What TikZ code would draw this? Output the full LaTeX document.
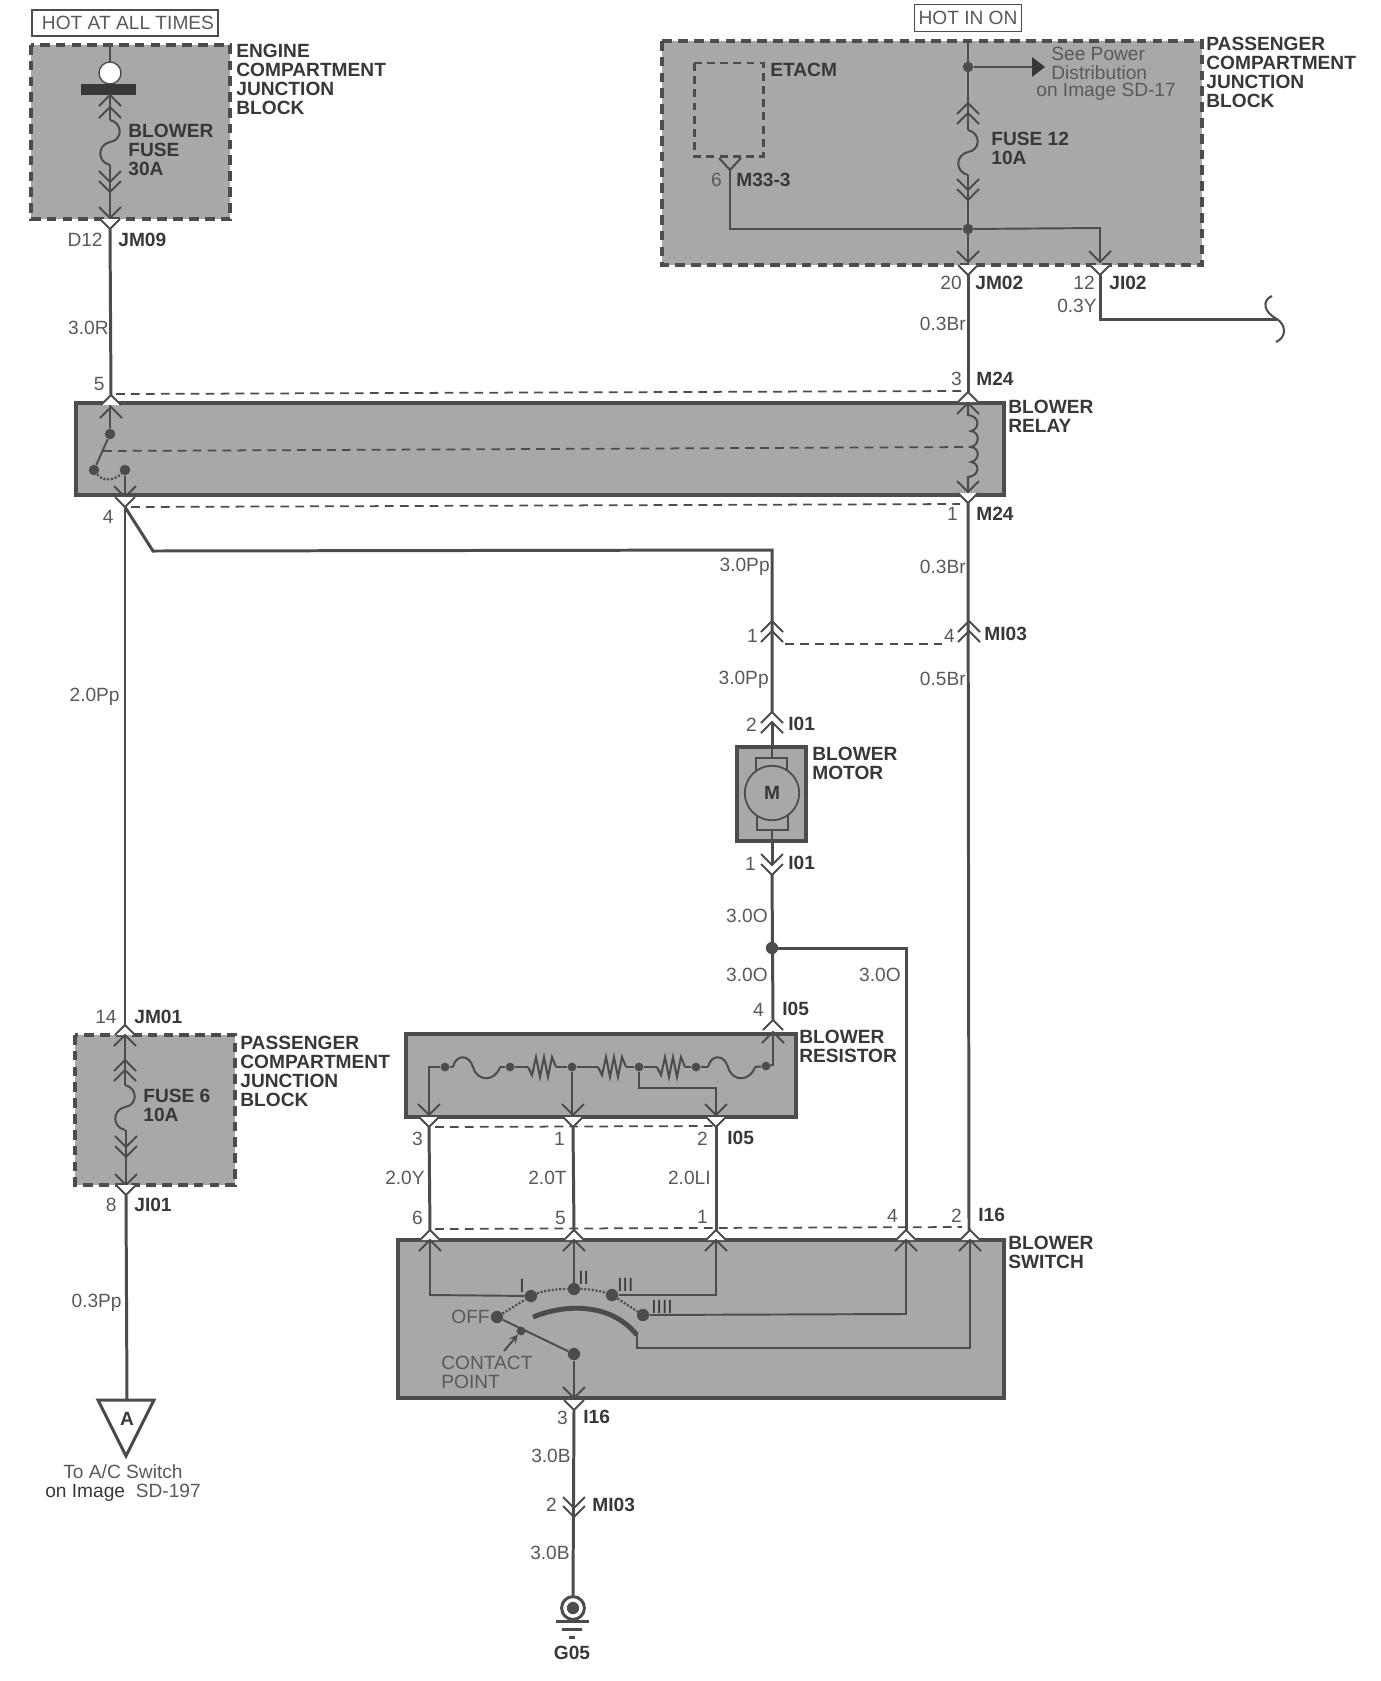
\documentclass[tikz,border=0pt]{standalone}
\usepackage{fontspec}
\setmainfont{Liberation Sans}
\definecolor{inkwire}{gray}{0.30}
\definecolor{inktext}{gray}{0.35}
\definecolor{inkbold}{gray}{0.22}
\definecolor{blockgray}{gray}{0.66}
\tikzset{
  wire/.style={draw=inkwire, line width=1.7pt},
  finewire/.style={draw=inkwire, line width=1.1pt},
  pin/.style={draw=inkwire, line width=1.15pt},
  dashwire/.style={draw=inkwire, line width=1pt, dash pattern=on 5pt off 3.5pt},
  dashblock/.style={draw=inkwire, line width=2.2pt, fill=blockgray, dash pattern=on 5.5pt off 3.5pt},
  solidblock/.style={draw=inkwire, line width=2.2pt, fill=blockgray},
  dot/.style={circle, fill=inkwire, inner sep=0pt, minimum size=6pt},
  lbl/.style={font=\fontsize{10.9}{10.8}\selectfont, text=inktext, inner sep=0pt, align=left},
  blbl/.style={font=\fontsize{10.9}{10.8}\selectfont\bfseries, text=inkbold, inner sep=0pt, align=left},
  chevup/.pic={\draw[pin] (-11,11) -- (0,0) -- (11,11);},
  chevdown/.pic={\draw[pin] (-11,-11) -- (0,0) -- (11,-11);},
  tabup/.pic={\filldraw[pin, fill=white] (-10,10) -- (0,0) -- (10,10);},
  tabdown/.pic={\filldraw[pin, fill=white] (-10,-10) -- (0,0) -- (10,-10);},
  fusev/.pic={\draw[pin] (0,0) .. controls (13,3) and (13,20) .. (0,22) .. controls (-13,25) and (-13,42) .. (0,45);},
  fuseh/.pic={\draw[pin] (0,0) .. controls (3,-13) and (16,-13) .. (20,0) .. controls (24,15) and (42,15) .. (47,0);},
  zigzag/.pic={\draw[pin] (0,0) -- (4,8) -- (8,-10) -- (12,10) -- (16,-10) -- (20,10) -- (24,-10) -- (28,0);},
}
\begin{document}
\begin{tikzpicture}[x=0.02cm, y=-0.02cm]
  \useasboundingbox (0,0) rectangle (1380,1681);

  % blocks
  \node[draw=inkwire, line width=1pt, minimum width=105.8, minimum height=14.8] (hotall) at (125,23) {};
  \node[lbl] (hotalltxt) at (128,23) {HOT AT ALL TIMES};
  \node[draw=inkwire, line width=1pt, minimum width=61, minimum height=15.4, inner sep=0pt] (hoton) at (968,18) {};
  \node[lbl] (hotontxt) at (hoton) {HOT IN ON};
  \draw[dashblock] (31,45) rectangle (230,219);
  \draw[dashblock] (662,41) rectangle (1202,265);
  \draw[draw=inkwire, line width=1.7pt, dash pattern=on 4.5pt off 3pt] (694,63) rectangle (763,156);
  \draw[solidblock] (76,403) rectangle (1004,495);
  \draw[solidblock] (737,747) rectangle (806,841);
  \draw[dashblock] (75,1035) rectangle (235,1185);
  \draw[solidblock] (406,1034) rectangle (796,1117);
  \draw[solidblock] (398,1240) rectangle (1004,1398);

  % terminals
  \coordinate (jmnine) at (110,229);
  \coordinate (relayfive) at (111,395);
  \coordinate (relayfour) at (125,507);
  \coordinate (bend) at (153,551);
  \coordinate (jmone) at (125,1025);
  \coordinate (jione) at (126,1195);
  \coordinate (acref) at (127,1400);
  \coordinate (jmtwo) at (968,275);
  \coordinate (relaythree) at (968,392);
  \coordinate (relayone) at (968,503);
  \coordinate (mithreetop) at (969,621);
  \coordinate (sdtwo) at (969,1230);
  \coordinate (jitwo) at (1100,275);
  \coordinate (motortop) at (772,712);
  \coordinate (motorbot) at (772,875);
  \coordinate (branch) at (772,948);
  \coordinate (resfour) at (773,1020);
  \coordinate (sdfour) at (906,1230);
  \coordinate (resthree) at (429,1127);
  \coordinate (resone) at (573,1127);
  \coordinate (restwo) at (716,1127);
  \coordinate (sdsix) at (430,1230);
  \coordinate (sdfive) at (574,1230);
  \coordinate (sdone) at (716,1230);
  \coordinate (sdbot) at (574,1410);
  \coordinate (gnd) at (573,1595);

  % main wires
  \draw[wire] (jmnine) -- (relayfive);
  \draw[wire] (relayfour) -- (jmone);
  \draw[wire] (relayfour) -- (bend) -- (772,550) -- (motortop);
  \draw[wire] (jmtwo) -- (relaythree);
  \draw[wire] (relayone) -- (sdtwo);
  \draw[wire] (jitwo) -- (1100,319) -- (1277,319);
  \draw[wire] (jione) -- (acref);
  \draw[wire] (motorbot) -- (resfour);
  \draw[wire] (branch) -- (906,948) -- (sdfour);
  \draw[wire] (resthree) -- (sdsix);
  \draw[wire] (resone) -- (sdfive);
  \draw[wire] (restwo) -- (sdone);
  \draw[wire] (sdbot) -- (gnd);
  \draw[pin] (1272,296) .. controls (1262,300) and (1263,312) .. (1277,319) .. controls (1286,325) and (1287,337) .. (1276,342);

  % connector groupings
  \draw[dashwire] (116,394) -- (963,391);
  \draw[dashwire] (131,507) -- (960,504);
  \draw[dashwire] (785,644) -- (942,644);
  \draw[dashwire] (435,1127) -- (713,1126);
  \draw[dashwire] (435,1229) -- (962,1227);

  % engine block inside
  \draw[finewire] (110,45) -- (110,63);
  \draw[fill=white, draw=inkwire, line width=0.8pt] (110,73) circle [radius=11];
  \fill[inkbold] (81,84) rectangle (136,95);
  \draw[finewire] (110,95) -- (110,120);
  \pic at (110,95) {chevup};
  \pic at (110,107) {chevup};
  \pic at (110,120) {fusev};
  \draw[finewire] (110,165) -- (110,218);
  \pic at (110,182) {chevdown};
  \pic at (110,192) {chevdown};
  \pic at (110,218) {chevdown};
  \pic at (110,229) {tabdown};

  % passenger block inside
  \draw[finewire] (968,41) -- (968,130);
  \pic at (968,103) {chevup};
  \pic at (968,113) {chevup};
  \pic at (968,130) {fusev};
  \draw[finewire] (968,175) -- (968,262);
  \pic at (968,190) {chevdown};
  \pic at (968,200) {chevdown};
  \pic at (968,262) {chevdown};
  \pic at (968,275) {tabdown};
  \node[dot] (feed) at (968,67) {};
  \node[dot] (split) at (968,229) {};
  \coordinate (seepower) at (1045,67);
  \draw[finewire] (feed) -- (1032,67);
  \fill[inkbold] (1032,57) -- (seepower) -- (1032,77) -- cycle;
  \coordinate (etacmpin) at (730,170);
  \draw[finewire] (etacmpin) -- (730,229) -- (split);
  \draw[finewire] (split) -- (1100,228) -- (1100,262);
  \draw[pin] (719,158) -- (etacmpin) -- (741,158);
  \pic at (1100,262) {chevdown};
  \pic at (1100,275) {tabdown};

  % relay inside
  \pic at (relayfive) {tabup};
  \pic at (111,407) {chevup};
  \pic at (relaythree) {tabup};
  \pic at (968,403) {chevup};
  \pic at (relayone) {tabdown};
  \pic at (968,492) {chevdown};
  \pic at (125,497) {chevdown};
  \pic at (relayfour) {tabdown};
  \node[dot] (relaya) at (110,434) {};
  \node[dot] (relayb) at (94,470) {};
  \node[dot] (relayc) at (125,470) {};
  \draw[finewire] (110,405) -- (relaya) -- (relayb);
  \draw[finewire] (relayc) -- (125,497);
  \draw[pin, densely dotted, line width=1.3pt] (relayb) .. controls (103,482) and (115,480) .. (relayc);
  \draw[dashwire] (103,451) -- (970,447);
  \draw[pin] (968,403) -- (968,415) .. controls (980,416) and (980,429) .. (971,431) .. controls (980,432) and (980,445) .. (971,447) .. controls (980,448) and (980,460) .. (971,462) .. controls (980,463) and (980,476) .. (968,477) -- (968,492);

  % motor
  \pic at (motortop) {chevup};
  \pic at (772,722) {chevup};
  \pic at (mithreetop) {chevup};
  \pic at (969,631) {chevup};
  \pic at (772,621) {chevup};
  \pic at (772,631) {chevup};
  \pic at (772,865) {chevdown};
  \pic at (motorbot) {chevdown};
  \draw[fill=blockgray, draw=inkwire, line width=1pt] (756,758) rectangle (787,772);
  \draw[fill=blockgray, draw=inkwire, line width=1pt] (757,816) rectangle (788,830);
  \node[circle, draw=inkwire, line width=1pt, fill=blockgray, minimum size=31pt, inner sep=0pt] (motor) at (772,793) {\fontsize{10.9}{10.9}\selectfont\bfseries\color{inkbold}M};
  \draw[finewire] (772,747) -- (772,758);
  \draw[finewire] (772,830) -- (772,841);
  \draw[wire] (772,841) -- (772,865);
  \draw[wire] (772,722) -- (772,747);
  \node[dot, minimum size=7pt] (branchdot) at (branch) {};

  % resistor inside
  \pic at (resfour) {tabup};
  \pic at (773,1032) {chevup};
  \draw[finewire] (773,1032) -- (773,1065) -- (766,1066);
  \node[dot, minimum size=5pt] (ra) at (445,1067) {};
  \node[dot, minimum size=5pt] (rb) at (510,1067) {};
  \node[dot, minimum size=5pt] (rc) at (572,1067) {};
  \node[dot, minimum size=5pt] (rd) at (639,1067) {};
  \node[dot, minimum size=5pt] (re) at (696,1067) {};
  \node[dot, minimum size=5pt] (rf) at (766,1066) {};
  \draw[pin] (429,1115) -- (429,1067) -- (ra) -- (453,1067);
  \pic at (453,1067) {fuseh};
  \draw[pin] (500,1067) -- (rb) -- (528,1067);
  \pic at (528,1067) {zigzag};
  \draw[pin] (556,1067) -- (rc) -- (598,1067);
  \pic at (598,1067) {zigzag};
  \draw[pin] (626,1067) -- (rd) -- (657,1067);
  \pic at (657,1067) {zigzag};
  \draw[pin] (685,1067) -- (re) -- (708,1067);
  \pic at (708,1067) {fuseh};
  \draw[pin] (755,1067) -- (rf);
  \draw[pin] (rc) -- (572,1115);
  \draw[pin] (rd) -- (639,1088) -- (716,1088) -- (716,1115);
  \foreach \n in {429,573,716} {
    \pic at (\n,1115) {chevdown};
    \pic at (\n,1127) {tabdown};
  }

  % switch inside
  \foreach \n in {430,574,716,906,970} {
    \pic at (\n,1230) {tabup};
    \pic at (\n,1240) {chevup};
  }
  \node[dot, minimum size=7pt] (posone) at (531,1296) {};
  \node[dot, minimum size=7pt] (postwo) at (574,1289) {};
  \node[dot, minimum size=7pt] (posthree) at (612,1295) {};
  \node[dot, minimum size=7pt] (posfour) at (643,1315) {};
  \node[dot, minimum size=7pt] (posoff) at (497,1317) {};
  \node[dot, minimum size=7pt] (wiper) at (574,1354) {};
  \node[dot, minimum size=5pt] (contact) at (521,1331) {};
  \draw[finewire] (430,1240) -- (430,1295) -- (posone);
  \draw[finewire] (574,1240) -- (postwo);
  \draw[finewire] (716,1240) -- (716,1295) -- (posthree);
  \draw[finewire] (906,1240) -- (906,1314) -- (posfour);
  \draw[finewire] (970,1240) -- (970,1348) -- (637,1348) -- (637,1335);
  \draw[draw=inkwire, line width=2.8pt] (533,1317) .. controls (565,1304) and (610,1302) .. (637,1335);
  \draw[pin, densely dotted, line width=1.3pt] (posoff) -- (posone) .. controls (545,1290) and (560,1289) .. (postwo) .. controls (590,1289) and (600,1291) .. (posthree) -- (posfour);
  \draw[finewire] (posoff) -- (wiper);
  \coordinate (callout) at (504,1351);
  \draw[pin, ->, >=stealth] (callout) -- (contact);
  \draw[finewire] (wiper) -- (574,1398);
  \pic at (574,1398) {chevdown};
  \pic at (sdbot) {tabdown};
  \pic at (574,1508) {chevdown};
  \pic at (574,1517) {chevdown};

  % fuse 6
  \pic at (jmone) {tabup};
  \draw[finewire] (125,1035) -- (125,1085);
  \pic at (125,1035) {chevup};
  \pic at (125,1060) {chevup};
  \pic at (125,1070) {chevup};
  \pic at (125,1085) {fusev};
  \draw[finewire] (126,1130) -- (126,1185);
  \pic at (126,1147) {chevdown};
  \pic at (126,1157) {chevdown};
  \pic at (126,1185) {chevdown};
  \pic at (jione) {tabdown};

  % ground and reference triangle
  \node[circle, draw=inkwire, line width=1.7pt, minimum size=13pt, inner sep=0pt] (gndring) at (573,1608) {};
  \node[dot, minimum size=7pt] (gndcore) at (gndring) {};
  \draw[wire] (556,1621) -- (589,1621);
  \draw[wire] (562,1629) -- (582,1629);
  \draw[wire] (569,1637) -- (575,1637);
  \draw[draw=inkwire, line width=1.7pt, fill=white, line join=miter] (98,1400) -- (154,1400) -- (126,1456) -- cycle;

  % labels
  \node[blbl, anchor=north west] (engine) at (236,44) {ENGINE\\COMPARTMENT\\JUNCTION\\BLOCK};
  \node[blbl, anchor=north west] (blowerfuse) at (128,124) {BLOWER\\FUSE\\30A};
  \node[lbl, anchor=east] (dtwelve) at (103,240) {D12};
  \node[blbl, anchor=west] (jmninetxt) at (118,240) {JM09};
  \node[lbl, anchor=east] (threer) at (109,328) {3.0R};
  \node[lbl, anchor=east] (fivetxt) at (105,384) {5};
  \node[blbl, anchor=north west] (passa) at (1206,37) {PASSENGER\\COMPARTMENT\\JUNCTION\\BLOCK};
  \node[blbl, anchor=west] (etacm) at (770,70) {ETACM};
  \node[lbl, anchor=north west] (seea) at (1051,47) {See Power\\Distribution};
  \node[lbl, anchor=west] (seeb) at (1036,92) {on Image SD-17};
  \node[blbl, anchor=north west] (fusetwelve) at (991,132) {FUSE 12\\10A};
  \node[lbl, anchor=east] (sixtxt) at (722,180) {6};
  \node[blbl, anchor=west] (mthree) at (736,180) {M33-3};
  \node[lbl, anchor=east] (twenty) at (962,283) {20};
  \node[blbl, anchor=west] (jmtwotxt) at (975,283) {JM02};
  \node[lbl, anchor=east] (twelve) at (1095,283) {12};
  \node[blbl, anchor=west] (jitwotxt) at (1109,283) {JI02};
  \node[lbl, anchor=east] (threey) at (1097,306) {0.3Y};
  \node[lbl, anchor=east] (brone) at (966,324) {0.3Br};
  \node[lbl, anchor=east] (threetxt) at (962,379) {3};
  \node[blbl, anchor=west] (mtop) at (976,379) {M24};
  \node[blbl, anchor=north west] (relay) at (1008,400) {BLOWER\\RELAY};
  \node[lbl, anchor=east] (fourtxt) at (114,517) {4};
  \node[lbl, anchor=east] (onetxt) at (958,514) {1};
  \node[blbl, anchor=west] (mbot) at (976,514) {M24};
  \node[lbl, anchor=east] (brtwo) at (966,567) {0.3Br};
  \node[lbl, anchor=east] (pptop) at (770,567) {3.0Pp};
  \node[lbl, anchor=east] (onemi) at (758,636) {1};
  \node[lbl, anchor=east] (fourmi) at (955,636) {4};
  \node[blbl, anchor=west] (mitxt) at (984,634) {MI03};
  \node[lbl, anchor=east] (ppmid) at (769,680) {3.0Pp};
  \node[lbl, anchor=east] (brthree) at (966,679) {0.5Br};
  \node[lbl, anchor=east] (pptwo) at (120,697) {2.0Pp};
  \node[lbl, anchor=east] (twomot) at (757,725) {2};
  \node[blbl, anchor=west] (ionea) at (788,724) {I01};
  \node[blbl, anchor=north west] (motorname) at (812,747) {BLOWER\\MOTOR};
  \node[lbl, anchor=east] (onemot) at (756,864) {1};
  \node[blbl, anchor=west] (ioneb) at (788,863) {I01};
  \node[lbl, anchor=east] (ooa) at (768,916) {3.0O};
  \node[lbl, anchor=east] (oob) at (768,975) {3.0O};
  \node[lbl, anchor=east] (ooc) at (901,975) {3.0O};
  \node[lbl, anchor=east] (fourres) at (764,1010) {4};
  \node[blbl, anchor=west] (ifivea) at (782,1009) {I05};
  \node[blbl, anchor=north west] (resname) at (799,1030) {BLOWER\\RESISTOR};
  \node[lbl, anchor=east] (fourteen) at (117,1017) {14};
  \node[blbl, anchor=west] (jmonetxt) at (134,1017) {JM01};
  \node[blbl, anchor=north west] (passb) at (240,1036) {PASSENGER\\COMPARTMENT\\JUNCTION\\BLOCK};
  \node[blbl, anchor=north west] (fusesix) at (143,1089) {FUSE 6\\10A};
  \node[lbl, anchor=east] (eight) at (117,1205) {8};
  \node[blbl, anchor=west] (jionetxt) at (134,1205) {JI01};
  \node[lbl, anchor=east] (threeres) at (423,1139) {3};
  \node[lbl, anchor=east] (oneres) at (565,1139) {1};
  \node[lbl, anchor=east] (twores) at (708,1139) {2};
  \node[blbl, anchor=west] (ifiveb) at (727,1138) {I05};
  \node[lbl, anchor=east] (twoy) at (425,1178) {2.0Y};
  \node[lbl, anchor=east] (twot) at (567,1178) {2.0T};
  \node[lbl, anchor=east] (twoli) at (711,1178) {2.0LI};
  \node[lbl, anchor=east] (sixsw) at (423,1218) {6};
  \node[lbl, anchor=east] (fivesw) at (566,1218) {5};
  \node[lbl, anchor=east] (onesw) at (708,1217) {1};
  \node[lbl, anchor=east] (foursw) at (898,1216) {4};
  \node[lbl, anchor=east] (twosw) at (962,1216) {2};
  \node[blbl, anchor=west] (isixa) at (978,1215) {I16};
  \node[blbl, anchor=north west] (swname) at (1008,1236) {BLOWER\\SWITCH};
  \node[lbl, text=inkbold, anchor=west] (modeone) at (519,1286) {I};
  \node[lbl, text=inkbold, anchor=west] (modetwo) at (578,1278) {II};
  \node[lbl, text=inkbold, anchor=west] (modethree) at (617,1285) {III};
  \node[lbl, text=inkbold, anchor=west] (modefour) at (651,1307) {IIII};
  \node[lbl, anchor=east] (offtxt) at (490,1317) {OFF};
  \node[lbl, anchor=north west] (contacttxt) at (441,1356) {CONTACT\\POINT};
  \node[lbl, anchor=east] (threesw) at (568,1418) {3};
  \node[blbl, anchor=west] (isixb) at (583,1417) {I16};
  \node[lbl, anchor=east] (bone) at (571,1456) {3.0B};
  \node[lbl, anchor=east] (twomi) at (557,1505) {2};
  \node[blbl, anchor=west] (mitwo) at (592,1505) {MI03};
  \node[lbl, anchor=east] (btwo) at (570,1553) {3.0B};
  \node[blbl] (gname) at (572,1653) {G05};
  \node[lbl, anchor=east] (pplow) at (122,1303) {0.3Pp};
  \node[blbl] (atxt) at (127,1419) {A};
  \node[lbl, align=center, anchor=north] (toac) at (123,1464) {To A/C Switch\\{\color{inkbold}on Image}\ \ SD-197};
\end{tikzpicture}
\end{document}
